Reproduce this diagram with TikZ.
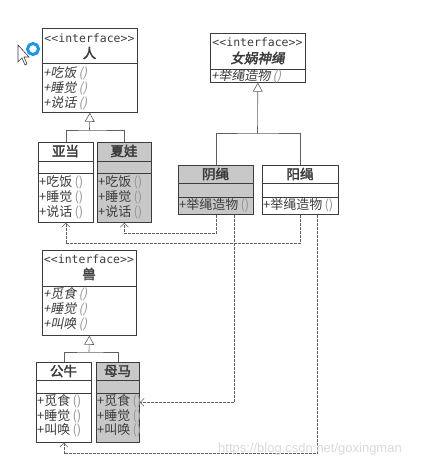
\documentclass[tikz,border=0pt]{standalone}
\usepackage{fontspec}
\setmainfont{Noto Sans CJK SC}[AutoFakeBold=2.5, AutoFakeSlant=0.2]
\newfontfamily\tagfont{DejaVu Sans Mono}
\newfontfamily\markfont{Liberation Sans}
\usetikzlibrary{arrows.meta}
\usetikzlibrary{calc}
\definecolor{boxgray}{RGB}{200, 200, 200}
\definecolor{inkgray}{RGB}{60, 60, 60}
\definecolor{wiregray}{RGB}{95, 95, 95}
\definecolor{pargray}{RGB}{150, 150, 150}
\definecolor{ringblue}{RGB}{30, 150, 230}
\newcommand{\argsgray}{\textcolor{pargray}{()}}

\begin{document}
\begin{tikzpicture}[x=1pt, y=-1pt,
        umlbox/.style={draw=inkgray, line width=0.7pt, inner sep=0pt, anchor=north west},
        shaded/.style={umlbox, fill=boxgray},
        rule/.style={draw=inkgray, line width=0.7pt},
        tagtext/.style={font=\tagfont\fontsize{11.5}{13}\selectfont, text=inkgray, inner sep=0pt},
        nametext/.style={font=\fontsize{13.5}{15}\selectfont\bfseries, text=inkgray, inner sep=0pt},
        optext/.style={font=\fontsize{13}{15}\selectfont, text=inkgray, inner sep=0pt, anchor=west},
        ifop/.style={optext, font=\fontsize{13}{15}\selectfont\itshape},
        gen/.style={draw=wiregray, line width=0.6pt},
        genhead/.style={gen, -{Triangle[open, length=9pt, width=10pt]}},
        dep/.style={draw=wiregray, line width=0.6pt, dash pattern=on 3pt off 1pt, -{Straight Barb[length=4pt, width=8pt]}}]
    \useasboundingbox (0, 0) rectangle (428, 466);

    \draw[ringblue, line width=3pt] (33, 49) circle (5.5);
    \draw[inkgray, fill=white, line width=0.6pt] (18, 45) -- (18, 62) -- (22, 58) -- (25, 65) -- (27, 64) -- (24, 57) -- (29, 57) -- cycle;

    \node[umlbox, minimum width=95, minimum height=84] (ren) at (42, 28) {};
    \draw[rule] (42, 63) -- (137, 63);
    \node[tagtext] (ren-tag) at (89.5, 38) {<<interface>>};
    \node[nametext] (ren-name) at (89.5, 53) {人};
    \node[ifop] (ren-eat) at (43, 73) {+吃饭\,\argsgray};
    \node[ifop] (ren-sleep) at (43, 88) {+睡觉\,\argsgray};
    \node[ifop] (ren-talk) at (43, 103) {+说话\,\argsgray};

    \node[umlbox, minimum width=95, minimum height=49] (nvwa) at (210, 33) {};
    \draw[rule] (210, 69) -- (305, 69);
    \node[tagtext] (nvwa-tag) at (257.5, 42) {<<interface>>};
    \node[nametext, font=\fontsize{13.5}{15}\selectfont\bfseries\itshape] (nvwa-name) at (257.5, 58) {女娲神绳};
    \node[ifop] (nvwa-make) at (211, 76) {+举绳造物\,\argsgray};

    \node[umlbox, minimum width=55, minimum height=80] (yadang) at (38, 142) {};
    \draw[rule] (38, 161) -- (93, 161);
    \draw[rule] (38, 173) -- (93, 173);
    \node[nametext] (yadang-name) at (65.5, 151) {亚当};
    \node[optext] (yadang-eat) at (39, 182) {+吃饭\,\argsgray};
    \node[optext] (yadang-sleep) at (39, 197) {+睡觉\,\argsgray};
    \node[optext] (yadang-talk) at (39, 212) {+说话\,\argsgray};

    \node[shaded, minimum width=54, minimum height=80] (xiawa) at (97, 142) {};
    \draw[rule] (97, 161) -- (151, 161);
    \draw[rule] (97, 173) -- (151, 173);
    \node[nametext] (xiawa-name) at (124, 151) {夏娃};
    \node[optext] (xiawa-eat) at (98, 182) {+吃饭\,\argsgray};
    \node[optext] (xiawa-sleep) at (98, 197) {+睡觉\,\argsgray};
    \node[optext] (xiawa-talk) at (98, 212) {+说话\,\argsgray};

    \node[shaded, minimum width=75, minimum height=49] (yinsheng) at (178, 165) {};
    \draw[rule] (178, 183) -- (253, 183);
    \draw[rule] (178, 197) -- (253, 197);
    \node[nametext] (yinsheng-name) at (215.5, 174) {阴绳};
    \node[optext] (yinsheng-make) at (179, 205) {+举绳造物\,\argsgray};

    \node[umlbox, minimum width=76, minimum height=49] (yangsheng) at (262, 165) {};
    \draw[rule] (262, 183) -- (338, 183);
    \draw[rule] (262, 197) -- (338, 197);
    \node[nametext] (yangsheng-name) at (300, 174) {阳绳};
    \node[optext] (yangsheng-make) at (263, 205) {+举绳造物\,\argsgray};

    \node[umlbox, minimum width=94, minimum height=85] (shou) at (42, 250) {};
    \draw[rule] (42, 286) -- (136, 286);
    \node[tagtext] (shou-tag) at (89, 259) {<<interface>>};
    \node[nametext] (shou-name) at (89, 274) {兽};
    \node[ifop] (shou-hunt) at (43, 294) {+觅食\,\argsgray};
    \node[ifop] (shou-sleep) at (43, 309) {+睡觉\,\argsgray};
    \node[ifop] (shou-call) at (43, 324) {+叫唤\,\argsgray};

    \node[umlbox, minimum width=55, minimum height=80] (gongniu) at (36, 362) {};
    \draw[rule] (36, 380) -- (91, 380);
    \draw[rule] (36, 393) -- (91, 393);
    \node[nametext] (gongniu-name) at (63.5, 371) {公牛};
    \node[optext] (gongniu-hunt) at (37, 401) {+觅食\,\argsgray};
    \node[optext] (gongniu-sleep) at (37, 416) {+睡觉\,\argsgray};
    \node[optext] (gongniu-call) at (37, 430) {+叫唤\,\argsgray};

    \node[shaded, minimum width=43, minimum height=80] (muma) at (96, 362) {};
    \draw[rule] (96, 380) -- (139, 380);
    \draw[rule] (96, 393) -- (139, 393);
    \node[nametext] (muma-name) at (117.5, 371) {母马};
    \node[optext] (muma-hunt) at (97, 401) {+觅食\,\argsgray};
    \node[optext] (muma-sleep) at (97, 416) {+睡觉\,\argsgray};
    \node[optext] (muma-call) at (97, 430) {+叫唤\,\argsgray};

    \coordinate (ren-fork) at (89.5, 130);
    \coordinate (nvwa-fork) at (257.5, 133);
    \coordinate (shou-fork) at (89, 352);

    \draw[gen] (yadang.north) |- (ren-fork) -| (xiawa.north);
    \draw[genhead] (ren-fork) -- (ren.south);
    \draw[gen] (yinsheng.north) |- (nvwa-fork) -| (yangsheng.north);
    \draw[genhead] (nvwa-fork) -- (nvwa.south);
    \draw[gen] (gongniu.north) |- (shou-fork) -| (muma.north);
    \draw[genhead] (shou-fork) -- (shou.south);

    \draw[dep] (yinsheng.south) -- ++(0, 19) -| (xiawa.south);
    \draw[dep] (yangsheng.south) -- ++(0, 29) -| (yadang.south);
    \draw[dep] ($(yinsheng.south) + (18, 0)$) |- (muma.east);
    \draw[dep] ($(yangsheng.south) + (17, 0)$) -- ++(0, 239) -| (gongniu.south);

    \node[font=\markfont\fontsize{13}{15}\selectfont, text=gray!30, inner sep=0pt] (mark) at (310, 449) {https://blog.csdn.net/goxingman};
\end{tikzpicture}
\end{document}
